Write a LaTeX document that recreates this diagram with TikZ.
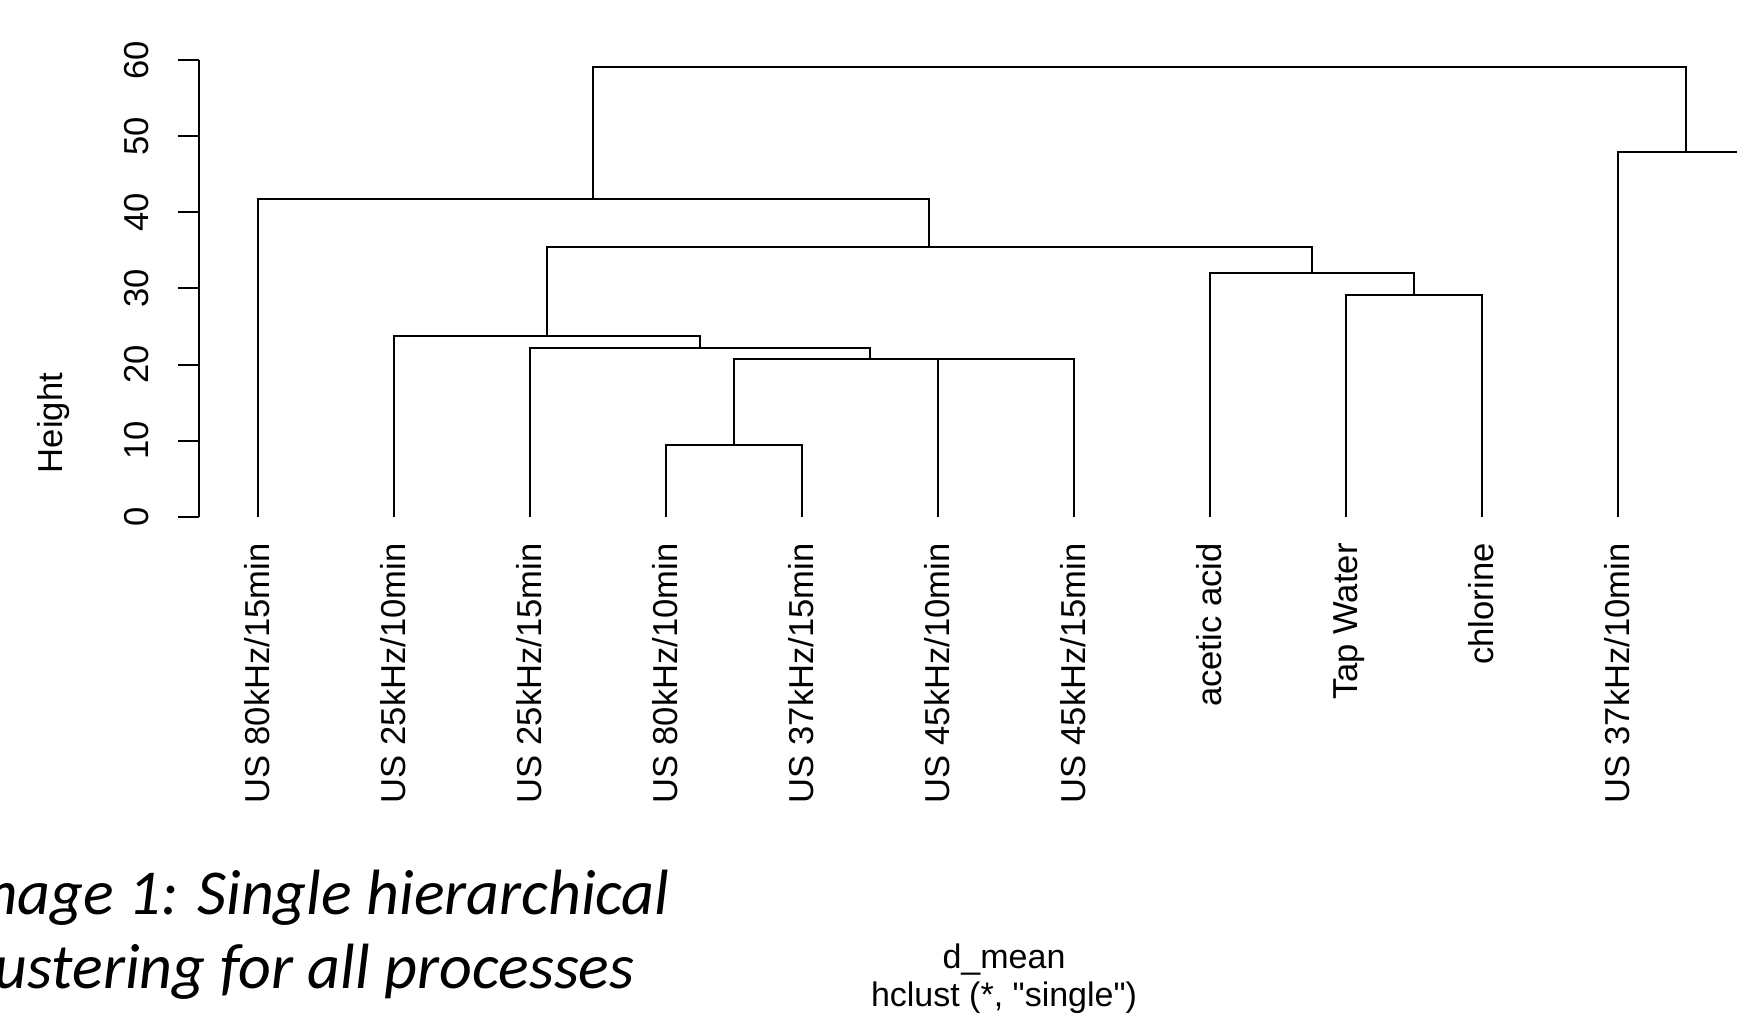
\documentclass[tikz,border=0pt]{standalone}
\usepackage{fontspec}
\setmainfont{Liberation Sans}[Ligatures=TeXOff]
\newfontfamily\capfont{Carlito}
\begin{document}
\begin{tikzpicture}[x=0.5pt,y=-0.5pt,
  dend/.style={line width=1pt, draw=black},
  axisline/.style={line width=1pt, draw=black},
  rtext/.style={rotate=90, inner sep=0pt, font=\fontsize{17.3}{20}\selectfont},
  leaflbl/.style={rtext, anchor=base east},
  ticklbl/.style={rtext, anchor=base},
  subtxt/.style={inner sep=0pt, anchor=base, font=\fontsize{17}{20}\selectfont},
  captxt/.style={inner sep=0pt, anchor=base east, font=\capfont\itshape\fontsize{32}{38}\selectfont}]
\useasboundingbox (0,0) rectangle (1737,1022);
\clip (0,0) rectangle (1737,1022);
\fill[white] (0,0) rectangle (1737,1022);

% y axis
\coordinate (ax0) at (199,516.7);
\coordinate (ax60) at (199,60);
\draw[axisline] (ax0) -- (ax60);
\foreach \v/\y in {0/516.7,10/440.6,20/364.5,30/288.3,40/212.2,50/136.1,60/60}{
  \draw[axisline] (199,\y) -- (178,\y);
  \node[ticklbl] (tick\v) at (148.5,\y) {\v};
}
\node[ticklbl] (ylab) at (62.5,423) {Height};

% leaves
\coordinate (L1) at (257.7,516.7);
\coordinate (L2) at (393.7,516.7);
\coordinate (L3) at (529.7,516.7);
\coordinate (L4) at (665.7,516.7);
\coordinate (L5) at (801.7,516.7);
\coordinate (L6) at (937.7,516.7);
\coordinate (L7) at (1073.7,516.7);
\coordinate (L8) at (1209.7,516.7);
\coordinate (L9) at (1345.7,516.7);
\coordinate (L10) at (1481.7,516.7);
\coordinate (L11) at (1617.7,516.7);
\coordinate (L12) at (1753.7,516.7);

% merges
\coordinate (A) at (733.7,445.3);
\coordinate (B) at (1005.7,358.7);
\coordinate (C) at (869.7,358.7);
\coordinate (D) at (699.7,347.7);
\coordinate (E) at (546.7,336);
\coordinate (F) at (1413.7,295);
\coordinate (G) at (1311.7,273);
\coordinate (H) at (929.2,247.3);
\coordinate (I) at (593.45,199.3);
\coordinate (J) at (1685.7,151.7);
\coordinate (K) at (1139.6,66.7);

\draw[dend] (L4) |- (A) -| (L5);
\draw[dend] (L6) |- (B) -| (L7);
\draw[dend] (A) |- (C) -| (B);
\draw[dend] (L3) |- (D) -| (C);
\draw[dend] (L2) |- (E) -| (D);
\draw[dend] (L9) |- (F) -| (L10);
\draw[dend] (L8) |- (G) -| (F);
\draw[dend] (E) |- (H) -| (G);
\draw[dend] (L1) |- (I) -| (H);
\draw[dend] (L11) |- (J) -| (L12);
\draw[dend] (I) |- (K) -| (J);

% leaf labels
\node[leaflbl] (t1) at (269.7,543) {US 80kHz/15min};
\node[leaflbl] (t2) at (405.7,543) {US 25kHz/10min};
\node[leaflbl] (t3) at (541.7,543) {US 25kHz/15min};
\node[leaflbl] (t4) at (677.7,543) {US 80kHz/10min};
\node[leaflbl] (t5) at (813.7,543) {US 37kHz/15min};
\node[leaflbl] (t6) at (949.7,543) {US 45kHz/10min};
\node[leaflbl] (t7) at (1085.7,543) {US 45kHz/15min};
\node[leaflbl] (t8) at (1221.7,543) {acetic acid};
\node[leaflbl] (t9) at (1357.7,543) {Tap Water};
\node[leaflbl] (t10) at (1493.7,543) {chlorine};
\node[leaflbl] (t11) at (1629.7,543) {US 37kHz/10min};

% sub title
\node[subtxt] (sub1) at (1004,968) {d\_mean};
\node[subtxt] (sub2) at (1004,1006) {hclust (*, "single")};

% caption
\node[captxt] (cap1) at (670,914) {Image 1: Single hierarchical};
\node[captxt] (cap2) at (635,988) {Clustering for all processes};
\end{tikzpicture}
\end{document}
